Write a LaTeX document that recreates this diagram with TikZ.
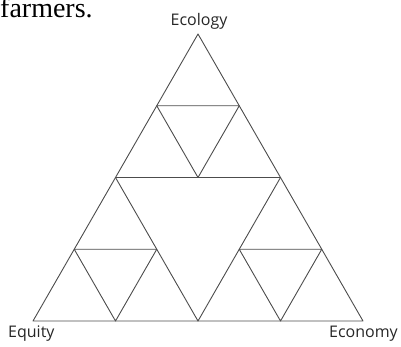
\documentclass[tikz,border=0pt]{standalone}
\usepackage{fontspec}
\setmainfont{Liberation Serif}
\newfontfamily\labelfont{Open Sans}
\usetikzlibrary{calc}

\begin{document}
\begin{tikzpicture}[
  x=1pt, y=-1pt,
  edge/.style={draw=black!70, line width=0.9pt, line join=round},
  corner/.style={font=\labelfont\fontsize{16}{18}\selectfont, text=black!85, inner sep=0pt}
]
\useasboundingbox (0,0) rectangle (401,346);

% Cut-off line of running text above the figure
\begin{scope}
  \clip (0,0) rectangle (401,346);
  \node[anchor=base west, inner sep=0pt, font=\fontsize{28}{30}\selectfont] (caption) at (0,17) {farmers.};
\end{scope}

% Outer corners
\coordinate (ecol) at (198,34);
\coordinate (equi) at (33,321);
\coordinate (econ) at (363,321);

% Midpoints of the sides
\coordinate (left)  at ($(ecol)!0.5!(equi)$);
\coordinate (right) at ($(ecol)!0.5!(econ)$);
\coordinate (base)  at ($(equi)!0.5!(econ)$);

% Outer triangle and the middle one
\draw[edge] (ecol) -- (equi) -- (econ) -- cycle;
\draw[edge] (left) -- (right) -- (base) -- cycle;

% Middle triangle of each corner triangle
\foreach \p/\q/\r in {ecol/left/right, left/equi/base, right/base/econ} {
  \draw[edge] ($(\p)!0.5!(\q)$) -- ($(\q)!0.5!(\r)$) -- ($(\r)!0.5!(\p)$) -- cycle;
}

% Labels
\node[corner, anchor=base] (ecolabel) at (199,25) {Ecology};
\node[corner, anchor=base west] (equlabel) at (8,337) {Equity};
\node[corner, anchor=base east] (ecnlabel) at (398,337) {Economy};
\end{tikzpicture}
\end{document}
